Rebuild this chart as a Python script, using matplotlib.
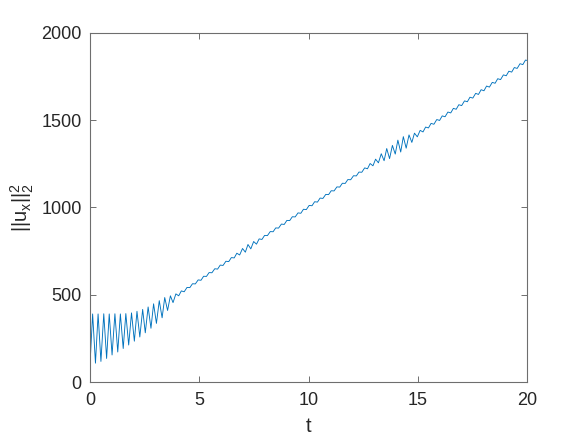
import matplotlib
matplotlib.use("Agg")
import matplotlib.pyplot as plt

# extrema of the curve (t, ||u_x||_2^2)
t_ext = [0.00,
         0.12, 0.25, 0.37, 0.50, 0.63, 0.76, 0.88, 1.01, 1.14, 1.27,
         1.39, 1.52, 1.64, 1.77, 1.90, 2.03, 2.15, 2.28, 2.41, 2.53,
         2.66, 2.79, 2.91, 3.04, 3.17, 3.30, 3.42, 3.55, 3.68, 3.80,
         3.93, 4.06, 4.18, 4.31, 4.44, 4.57, 4.69, 4.82, 4.95, 5.08,
         5.20, 5.33, 5.45, 5.58, 5.71, 5.84, 5.96, 6.09, 6.22, 6.35,
         6.47, 6.60, 6.72, 6.85, 6.98, 7.11, 7.23, 7.36, 7.49, 7.62,
         7.74, 7.87, 7.99, 8.12, 8.25, 8.38, 8.50, 8.63, 8.76, 8.89,
         9.01, 9.14, 9.26, 9.39, 9.52, 9.65, 9.77, 9.90, 10.03, 10.16,
         10.28, 10.41, 10.53, 10.66, 10.79, 10.92, 11.04, 11.17, 11.30, 11.43,
         11.55, 11.68, 11.80, 11.93, 12.06, 12.19, 12.31, 12.44, 12.57, 12.70,
         12.82, 12.95, 13.07, 13.20, 13.33, 13.46, 13.58, 13.71, 13.84, 13.97,
         14.09, 14.22, 14.34, 14.47, 14.60, 14.73, 14.85, 14.98, 15.11, 15.24,
         15.36, 15.49, 15.61, 15.74, 15.87, 16.00, 16.12, 16.25, 16.38, 16.51,
         16.63, 16.76, 16.88, 17.01, 17.14, 17.27, 17.39, 17.52, 17.65, 17.78,
         17.90, 18.03, 18.15, 18.28, 18.41, 18.54, 18.66, 18.79, 18.92, 19.05,
         19.17, 19.30, 19.42, 19.55, 19.68, 19.81, 19.93, 20.00]

u_ext = [100,
         390, 108, 390, 118, 391, 135, 390, 155, 391, 172,
         390, 192, 392, 212, 396, 234, 405, 258, 416, 282,
         430, 308, 448, 336, 466, 368, 484, 410, 494, 455,
         505, 494, 522, 517, 542, 541, 563, 562, 585, 583,
         606, 605, 627, 626, 649, 647, 670, 668, 692, 690,
         713, 711, 738, 728, 765, 744, 788, 763, 805, 790,
         820, 817, 840, 839, 862, 861, 883, 882, 905, 903,
         926, 925, 947, 946, 969, 967, 990, 988, 1012, 1010,
         1033, 1031, 1054, 1052, 1075, 1074, 1096, 1095, 1118, 1117,
         1139, 1138, 1160, 1159, 1182, 1181, 1203, 1202, 1227, 1222,
         1252, 1239, 1277, 1256, 1308, 1268, 1338, 1280, 1356, 1306,
         1386, 1318, 1406, 1340, 1416, 1373, 1426, 1405, 1442, 1433,
         1461, 1456, 1482, 1477, 1504, 1499, 1525, 1520, 1547, 1542,
         1568, 1563, 1589, 1584, 1611, 1606, 1632, 1627, 1654, 1648,
         1675, 1669, 1696, 1690, 1717, 1712, 1738, 1733, 1760, 1755,
         1781, 1776, 1802, 1797, 1824, 1819, 1845, 1843]

x_ticks = [0, 5, 10, 15, 20]
y_ticks = [0, 500, 1000, 1500, 2000]

plt.rcParams['font.family'] = ['Liberation Sans', 'DejaVu Sans']
plt.rcParams['mathtext.fontset'] = 'custom'
plt.rcParams['mathtext.rm'] = 'Liberation Sans'
plt.rcParams['mathtext.it'] = 'Liberation Sans'

fig = plt.figure(figsize=(5.81, 4.36), dpi=100)
ax = fig.add_axes([90/581, 1-382/436, (527-90)/581, (382-33)/436])

ax.plot(t_ext, u_ext, color='#0072BD', lw=0.65)

ax.set_xlim(0, 20)
ax.set_ylim(0, 2000)
ax.set_xticks(x_ticks)
ax.set_yticks(y_ticks)
ax.tick_params(direction='in', length=4, width=0.7, colors='#6e6e6e',
               labelsize=13, top=True, right=True)
ax.tick_params(labelcolor='#262626')
ax.tick_params(axis='x', pad=7)
ax.tick_params(axis='y', pad=6)
for s in ax.spines.values():
    s.set_color('#6e6e6e')
    s.set_linewidth(0.8)

ax.set_xlabel('t', fontsize=14.5, color='#262626', labelpad=6)
ax.set_ylabel(r'$||u_x||_2^2$', fontsize=14.5, color='#262626', labelpad=4)

fig.savefig('out.png', dpi=100)
